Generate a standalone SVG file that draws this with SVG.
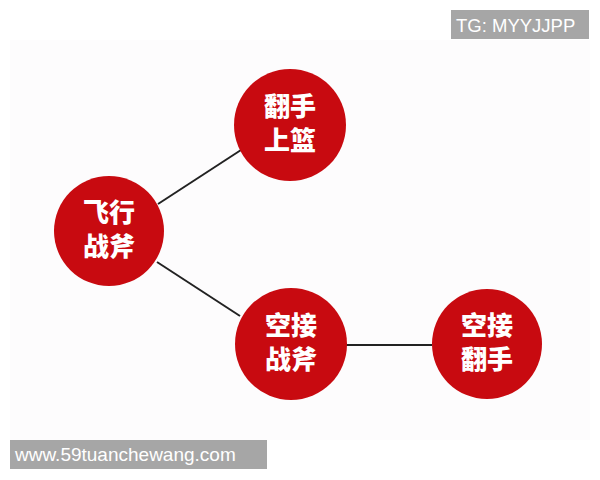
<svg xmlns="http://www.w3.org/2000/svg" width="600" height="480" viewBox="0 0 600 480">
  <style>
    .node circle { fill: #c80a10; }
    .node text { fill: #ffffff; font-family: "Noto Sans CJK SC", "Noto Sans", sans-serif; font-weight: 900; font-size: 26px; text-anchor: middle; }
    .conn line { stroke: #222222; stroke-width: 2; }
    .tag rect { fill: #a6a6a6; }
    .tag text { fill: #ffffff; font-family: "Liberation Sans", Arial, sans-serif; }
  </style>
  <rect x="0" y="0" width="600" height="480" fill="#ffffff"/>
  <rect x="10" y="40" width="580" height="400" fill="#fdfcfd"/>
  <g id="connectors" class="conn">
    <line x1="158" y1="204" x2="241" y2="150"/>
    <line x1="157" y1="262" x2="240" y2="316"/>
    <line x1="345" y1="345" x2="432" y2="345"/>
  </g>
  <g id="node-feixing" class="node">
    <circle cx="109" cy="231" r="55"/>
    <text x="109" y="222">飞行</text>
    <text x="109" y="256">战斧</text>
  </g>
  <g id="node-fanshou" class="node">
    <circle cx="290" cy="125" r="56"/>
    <text x="290" y="116">翻手</text>
    <text x="290" y="150">上篮</text>
  </g>
  <g id="node-kongjie-zhanfu" class="node">
    <circle cx="291" cy="344" r="56"/>
    <text x="291" y="335">空接</text>
    <text x="291" y="369">战斧</text>
  </g>
  <g id="node-kongjie-fanshou" class="node">
    <circle cx="487" cy="344" r="55"/>
    <text x="487" y="335">空接</text>
    <text x="487" y="369">翻手</text>
  </g>
  <g id="tag-tg" class="tag">
    <rect x="451" y="10" width="138" height="29"/>
    <text x="456" y="32" font-size="18.5">TG: MYYJJPP</text>
  </g>
  <g id="tag-url" class="tag">
    <rect x="10" y="440" width="257" height="29"/>
    <text x="15" y="461" font-size="19">www.59tuanchewang.com</text>
  </g>
</svg>
